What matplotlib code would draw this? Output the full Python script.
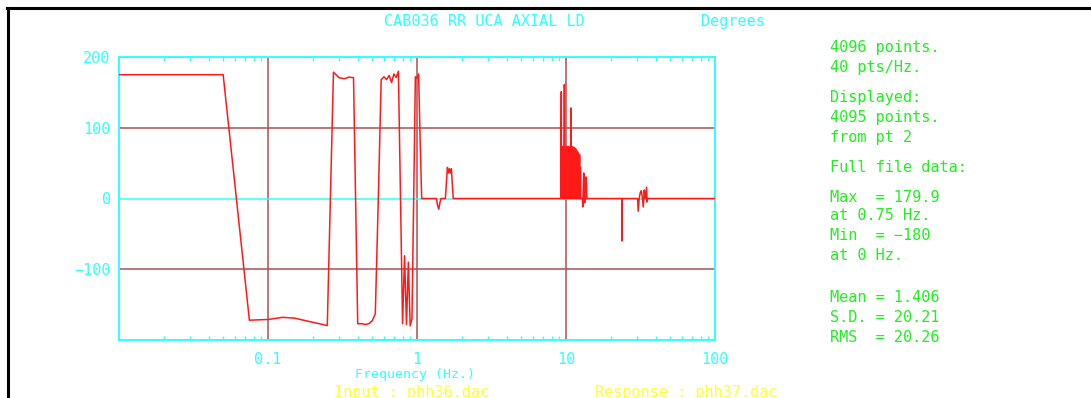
import matplotlib

matplotlib.use("Agg")
import matplotlib.pyplot as plt
from matplotlib.lines import Line2D
from matplotlib.ticker import FixedFormatter, FixedLocator, LogLocator, NullFormatter

# phase trace (Hz, degrees)
freq_hz = [
    0.01, 0.05, 0.075, 0.1, 0.125, 0.15, 0.2, 0.25, 0.275, 0.3, 0.325, 0.35, 0.375,
    0.4, 0.425, 0.45, 0.475, 0.5, 0.525, 0.55, 0.575, 0.6, 0.625, 0.65, 0.675, 0.7, 0.725, 0.75,
    0.775, 0.8, 0.825, 0.85, 0.875, 0.9, 0.925, 0.95, 0.975, 1.0, 1.025, 1.05, 1.075,
    1.35, 1.375, 1.4, 1.425, 1.45,
    1.55, 1.575, 1.6, 1.625, 1.65, 1.675, 1.7, 1.725, 1.75,
    9.25, 9.3, 9.32, 9.72, 9.75, 9.78, 10.75, 10.8, 10.85, 12.45, 12.5, 12.55,
    12.9, 12.95, 13.0, 13.15, 13.25, 13.35, 13.5, 13.7, 13.8,
    23.7, 23.75, 23.8,
    30.25, 30.5, 31.0, 31.5, 32.0, 32.5, 33.0, 33.5, 34.0, 34.75, 35.0, 35.25,
    100.0,
]
phase_deg = [
    175, 175, -172, -171, -168, -169, -175, -179.6, 178.6, 170.7, 169.3, 171.6, 170.7,
    -177, -177, -178, -177, -173, -163, 0, 168, 172, 168, 174, 164, 176, 171, 179.9,
    0, -177, -81, -178, -90, -180, -170, 0, 172, 170, 176, 82, 0,
    0, -10, -15, -6, 0,
    0, 22, 44, 36, 42, 36, 42, 21, 0,
    0, 151, 0, 0, 161, 0, 0, 128, 0, 0, 44, 0,
    0, -12, 0, 36, 20, -6, 30, 30, 0,
    0, -60, 0,
    0, -18, 0, 8, 11, 2, -12, 12, 0, 16, -5, 0,
    0,
]

# dense oscillation around 10 Hz: upper envelope
band_hz = [9.3, 10.0, 11.0, 11.6, 11.9, 12.3, 12.45]
band_top = [75, 75, 75, 72, 68, 63, 63]

xtick_values = [0.1, 1, 10, 100]
xtick_labels = ["0.1", "1", "10", "100"]
ytick_values = [200, 100, 0, -100]
ytick_labels = ["200", "100", "0", "\u2212100"]

title_text = "CAB036 RR UCA AXIAL LD"
units_text = "Degrees"
xlabel_text = "Frequency (Hz.)"
input_text = "Input : phh36.dac"
response_text = "Response : phh37.dac"
info_lines = [
    "4096 points.",
    "40 pts/Hz.",
    "Displayed:",
    "4095 points.",
    "from pt 2",
    "Full file data:",
    "Max  = 179.9",
    "at 0.75 Hz.",
    "Min  = \u2212180",
    "at 0 Hz.",
    "Mean = 1.406",
    "S.D. = 20.21",
    "RMS  = 20.26",
]

W, H = 1091, 398
CYAN = "#33ffff"
GRID = "#b05050"
RED = "#ff1a1a"
GREEN = "#22ee22"
YELLOW = "#ffff33"
FONT = "DejaVu Sans Mono"


def fxy(px, py):
    return px / W, 1 - py / H


fig = plt.figure(figsize=(W / 100, H / 100), dpi=100)
ax = fig.add_axes([119 / W, 1 - 340 / H, 596 / W, 283 / H])

ax.set_xscale("log")
ax.set_xlim(0.01, 100)
ax.set_ylim(-200, 200)

for x in xtick_values:
    ax.axvline(x, color=GRID, lw=1.1, zorder=1)
for y in (100, -100):
    ax.axhline(y, color=GRID, lw=1.1, zorder=1)
ax.axhline(0, color=CYAN, lw=1.1, zorder=1)

ax.fill_between(band_hz, 0, band_top, color=RED, lw=0, zorder=3)
ax.plot(freq_hz, phase_deg, color=RED, lw=1.1, zorder=3)

ax.xaxis.set_major_locator(FixedLocator(xtick_values))
ax.xaxis.set_major_formatter(FixedFormatter(xtick_labels))
ax.xaxis.set_minor_locator(LogLocator(base=10, subs=range(2, 10)))
ax.xaxis.set_minor_formatter(NullFormatter())
ax.yaxis.set_major_locator(FixedLocator(ytick_values))
ax.yaxis.set_major_formatter(FixedFormatter(ytick_labels))

ax.tick_params(axis="x", which="major", length=0, pad=9, labelcolor=CYAN, labelsize=11)
ax.tick_params(axis="x", which="minor", direction="in", length=3, width=1,
               color=CYAN, top=True, bottom=True)
ax.tick_params(axis="y", which="major", length=0, pad=6, labelcolor=CYAN, labelsize=11)
for lab in ax.get_xticklabels() + ax.get_yticklabels():
    lab.set_fontfamily(FONT)

for spine in ax.spines.values():
    spine.set_color(CYAN)
    spine.set_linewidth(1.4)

ax.set_xlabel(xlabel_text, color=CYAN, fontsize=9.5, family=FONT, va="baseline")
ax.xaxis.set_label_coords((415 - 119) / 596, (340 - 378) / 283)

fig.text(*fxy(484, 26), title_text, color=CYAN, fontsize=11, family=FONT, ha="center", va="baseline")
fig.text(*fxy(733, 26), units_text, color=CYAN, fontsize=11, family=FONT, ha="center", va="baseline")
fig.text(*fxy(412, 397), input_text, color=YELLOW, fontsize=11, family=FONT, ha="center", va="baseline")
fig.text(*fxy(686, 397), response_text, color=YELLOW, fontsize=11, family=FONT, ha="center", va="baseline")

info_baselines = [52, 72, 102, 122, 142, 172, 202, 220, 240, 260, 302, 322, 342]
for line, yb in zip(info_lines, info_baselines):
    fig.text(*fxy(830, yb), line, color=GREEN, fontsize=11, family=FONT, ha="left", va="baseline")

# black page frame around the screenshot
fig.add_artist(Line2D([7 / W, 1.0], [1 - 8 / H, 1 - 8 / H], color="black", lw=2.2,
                      transform=fig.transFigure))
fig.add_artist(Line2D([7.5 / W, 7.5 / W], [0.0, 1 - 8 / H], color="black", lw=2.2,
                      transform=fig.transFigure))

fig.savefig("out.png", dpi=100)
